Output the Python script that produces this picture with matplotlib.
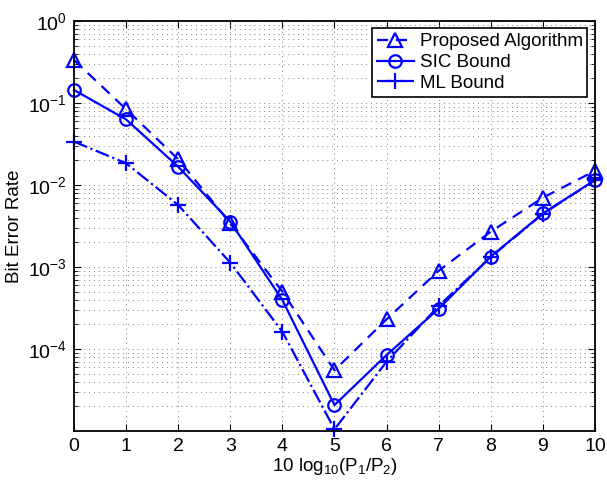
import matplotlib
matplotlib.use("Agg")
import matplotlib.pyplot as plt
import numpy as np

plt.rcParams['font.family'] = ['Liberation Sans', 'DejaVu Sans']
plt.rcParams['mathtext.fontset'] = 'custom'
plt.rcParams['mathtext.rm'] = 'Liberation Sans'
plt.rcParams['mathtext.it'] = 'Liberation Sans'

# data
snr_db = [0, 1, 2, 3, 4, 5, 6, 7, 8, 9, 10]
ber_proposed = [0.334, 0.084, 0.0206, 3.4e-3, 5.0e-4, 5.5e-5, 2.3e-4, 9.0e-4, 2.7e-3, 7.0e-3, 1.49e-2]
ber_sic = [0.144, 0.063, 0.0167, 3.57e-3, 3.95e-4, 2.07e-5, 8.45e-5, 3.1e-4, 1.34e-3, 4.5e-3, 1.15e-2]
ber_ml = [0.0338, 0.0184, 5.7e-3, 1.13e-3, 1.62e-4, 1.05e-5, 7.0e-5, 3.35e-4, 1.32e-3, 4.45e-3, 1.14e-2]

fig = plt.figure(figsize=(6.07, 4.87), dpi=100)
ax = fig.add_axes([0.1219, 0.115, 0.8583, 0.8419])

blue = (0, 0, 1)
ax.semilogy(snr_db, ber_proposed, '--', color=blue, marker='^', ms=10, mfc='none',
            mew=1.6, lw=1.6, label='Proposed Algorithm', clip_on=False, dashes=(5, 3.5))
ax.semilogy(snr_db, ber_sic, '-', color=blue, marker='o', ms=9, mfc='none',
            mew=1.6, lw=1.6, label='SIC Bound', clip_on=False)
ax.semilogy(snr_db, ber_ml, '-.', color=blue, marker='+', ms=11, mew=1.6,
            lw=1.6, label='ML Bound', clip_on=False)

ax.set_xlim(0, 10)
ax.set_ylim(1e-5, 1)
ax.set_xticks(range(0, 11))
ax.set_yticks([1e0, 1e-1, 1e-2, 1e-3, 1e-4])
ax.set_yticklabels(['$10^{0}$', '$10^{-1}$', '$10^{-2}$', '$10^{-3}$', '$10^{-4}$'])

ax.grid(True, which='major', color='gray', linestyle=(0, (1, 4)), linewidth=0.7)
ax.grid(True, which='minor', axis='y', color='gray', linestyle=(0, (1, 4)), linewidth=0.7)
ax.tick_params(which='both', direction='in', top=True, right=True, labelsize=14)
ax.tick_params(which='major', length=5, pad=5)
ax.tick_params(which='minor', length=3)
for s in ax.spines.values():
    s.set_linewidth(1.3)

ax.set_xlabel('10 log$_{10}$(P$_1$/P$_2$)', fontsize=13.5, labelpad=1)
ax.set_ylabel('Bit Error Rate', fontsize=13.5, labelpad=4)

leg = ax.legend(loc='upper right', fontsize=13.5, fancybox=False, framealpha=1,
                edgecolor='black', handlelength=2.0, borderpad=0.25,
                labelspacing=0.2, handletextpad=0.3, borderaxespad=0.4)
leg.get_frame().set_linewidth(1.2)

fig.savefig('out.png', dpi=100)
